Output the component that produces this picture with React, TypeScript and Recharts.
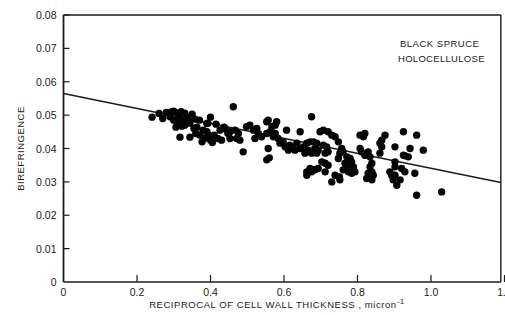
import React from 'react'
import { ScatterChart, Scatter, XAxis, YAxis, ReferenceLine } from 'recharts'

// tick values and labels
const X_TICKS = [0, 0.2, 0.4, 0.6, 0.8, 1.0, 1.2]
const X_TICK_LABELS = ['0', '0.2', '0.4', '0.6', '0.8', '1.0', '1.2']
const Y_TICKS = [0, 0.01, 0.02, 0.03, 0.04, 0.05, 0.06, 0.07, 0.08]
const Y_TICK_LABELS = ['0', '0.01', '0.02', '0.03', '0.04', '0.05', '0.06', '0.07', '0.08']

// frame edges (data units)
const X_MAX = 1.2
const X_FRAME = 1.19
const Y_MAX = 0.08

// fitted line, read at both ends
const FIT_START = [0, 0.0565]
const FIT_END = [1.19, 0.0298]

// measurements: [reciprocal wall thickness, birefringence]
const thinWalls = [
  [0.241, 0.0494], [0.26, 0.0505], [0.27, 0.049], [0.28, 0.0508], [0.29, 0.0495],
  [0.295, 0.051], [0.3, 0.0512], [0.3, 0.0485], [0.31, 0.0506], [0.31, 0.048],
  [0.315, 0.0495], [0.32, 0.051], [0.325, 0.0485], [0.306, 0.0464], [0.322, 0.0467],
  [0.33, 0.0506], [0.33, 0.047], [0.336, 0.0494], [0.34, 0.0485], [0.344, 0.0476],
  [0.35, 0.0503], [0.355, 0.046], [0.358, 0.0488], [0.363, 0.0464], [0.37, 0.0485],
  [0.317, 0.0434], [0.344, 0.0434], [0.36, 0.0445], [0.371, 0.044], [0.38, 0.0455],
  [0.385, 0.0431], [0.39, 0.0475], [0.395, 0.044], [0.4, 0.0494], [0.4, 0.0425],
  [0.41, 0.044], [0.415, 0.0473], [0.42, 0.043], [0.426, 0.0455], [0.43, 0.0425],
  [0.437, 0.0464], [0.439, 0.046], [0.447, 0.0446], [0.393, 0.0476], [0.39, 0.045],
  [0.377, 0.042], [0.405, 0.0418], [0.453, 0.043],
]

const midWalls = [
  [0.453, 0.045], [0.462, 0.0525], [0.467, 0.0455], [0.471, 0.043], [0.476, 0.0445],
  [0.48, 0.0425], [0.489, 0.039], [0.498, 0.0465], [0.507, 0.047], [0.517, 0.0455],
  [0.521, 0.043], [0.526, 0.046], [0.53, 0.0445], [0.539, 0.0435], [0.553, 0.048],
  [0.553, 0.0445], [0.553, 0.0366], [0.557, 0.0485], [0.557, 0.04], [0.562, 0.045],
  [0.567, 0.0465], [0.571, 0.0435], [0.576, 0.047], [0.576, 0.0445], [0.58, 0.048],
  [0.584, 0.043], [0.589, 0.0416], [0.598, 0.042], [0.56, 0.0372],
]

const thickerWalls = [
  [0.603, 0.0405], [0.607, 0.0455], [0.612, 0.0395], [0.616, 0.041], [0.621, 0.0405],
  [0.63, 0.0395], [0.635, 0.0416], [0.644, 0.045], [0.644, 0.04], [0.653, 0.0405],
  [0.657, 0.0386], [0.662, 0.0416], [0.666, 0.0395], [0.671, 0.042], [0.675, 0.0495],
  [0.662, 0.033], [0.662, 0.032], [0.671, 0.034], [0.68, 0.0336], [0.675, 0.033],
  [0.684, 0.0336], [0.693, 0.034], [0.68, 0.042], [0.689, 0.0416], [0.684, 0.04],
  [0.693, 0.0395], [0.675, 0.0386], [0.689, 0.0386], [0.698, 0.045], [0.707, 0.0455],
  [0.72, 0.045], [0.73, 0.044], [0.739, 0.0435], [0.707, 0.041], [0.716, 0.0405],
  [0.712, 0.0386], [0.72, 0.039], [0.703, 0.036], [0.712, 0.0356], [0.72, 0.035],
  [0.712, 0.033], [0.739, 0.032], [0.73, 0.03], [0.748, 0.042], [0.748, 0.037],
]

const thickWalls = [
  [0.752, 0.0386], [0.752, 0.0306], [0.757, 0.04], [0.761, 0.039], [0.761, 0.0336],
  [0.766, 0.0356], [0.771, 0.0375], [0.775, 0.035], [0.775, 0.033], [0.78, 0.037],
  [0.784, 0.036], [0.784, 0.0326], [0.789, 0.0345], [0.793, 0.033], [0.807, 0.044],
  [0.816, 0.0435], [0.82, 0.0445], [0.807, 0.04], [0.811, 0.039], [0.82, 0.038],
  [0.829, 0.039], [0.834, 0.0375], [0.839, 0.0356], [0.834, 0.0345], [0.839, 0.033],
  [0.829, 0.0326], [0.843, 0.032], [0.839, 0.0306], [0.825, 0.031], [0.861, 0.0416],
  [0.866, 0.0425], [0.875, 0.044], [0.866, 0.0405], [0.861, 0.0386], [0.888, 0.033],
  [0.893, 0.032], [0.897, 0.0306], [0.751, 0.0315],
]

const thickestWalls = [
  [0.902, 0.0345], [0.925, 0.045], [0.961, 0.044], [0.902, 0.0405], [0.943, 0.04],
  [0.979, 0.0395], [0.925, 0.038], [0.938, 0.0375], [0.902, 0.036], [0.92, 0.034],
  [0.929, 0.033], [0.956, 0.0326], [0.902, 0.032], [0.916, 0.0306], [0.907, 0.029],
  [0.961, 0.026], [1.029, 0.027], [0.93, 0.0378],
]

const FONT = '"Liberation Sans", Arial, sans-serif'
const INK = '#1c1c1c'

const points = [...thinWalls, ...midWalls, ...thickerWalls, ...thickWalls, ...thickestWalls]
  .map(([x, y]) => ({ x, y }))

const Dot = (props: any) => <circle cx={props.cx} cy={props.cy} r={3.7} fill="#050505" />

function XTick({ x, y, payload }: any) {
  const axisY = y - 10
  const label = X_TICK_LABELS[X_TICKS.indexOf(payload.value)]
  return (
    <g>
      {payload.value > 0 && <line x1={x} x2={x} y1={axisY} y2={axisY - 7} stroke={INK} strokeWidth={1.2} />}
      <text x={x} y={y + 4} textAnchor="middle" fontSize={10.5} fontFamily={FONT} fill={INK}>{label}</text>
    </g>
  )
}

function YTick({ x, y, payload }: any) {
  const axisX = x + 7
  const label = Y_TICK_LABELS[Y_TICKS.indexOf(payload.value)]
  return (
    <g>
      {payload.value > 0 && <line x1={axisX} x2={axisX + 6} y1={y} y2={y} stroke={INK} strokeWidth={1.2} />}
      <text x={x} y={y + 4} textAnchor="end" fontSize={10.5} fontFamily={FONT} fill={INK}>{label}</text>
    </g>
  )
}

const XTitle = () => (
  <text x={277} y={308} textAnchor="middle" fontSize={9.5}
    fontFamily={FONT} fill={INK} letterSpacing={0.55}>
    RECIPROCAL OF CELL WALL THICKNESS , micron
    <tspan dy={-4} fontSize={8}>-1</tspan>
  </text>
)

const YTitle = ({ viewBox }: any) => (
  <text x={21} y={viewBox.y + viewBox.height / 2} transform={`rotate(-90, 21, ${viewBox.y + viewBox.height / 2})`}
    textAnchor="middle" dominantBaseline="middle" fontSize={9.5} fontFamily={FONT} fill={INK} letterSpacing={0.5}>
    BIREFRINGENCE
  </text>
)

export default function App() {
  return (
    <div style={{ position: 'absolute', left: 0, top: 0, width: 505, height: 315, overflow: 'hidden', background: '#fff' }}>
      <style>{'body{margin:0;overflow:hidden}'}</style>
      <ScatterChart width={520} height={315} margin={{ top: 15, right: 15.5, bottom: 3, left: 0 }}>
        <XAxis type="number" dataKey="x" domain={[0, X_MAX]} ticks={X_TICKS} interval={0}
          axisLine={false} tickLine={false} tickSize={0} tickMargin={10} tick={<XTick />} height={30}
          label={<XTitle />} />
        <YAxis type="number" dataKey="y" domain={[0, Y_MAX]} ticks={Y_TICKS} interval={0}
          axisLine={false} tickLine={false} tickSize={0} tickMargin={7} tick={<YTick />} width={63.5}
          label={<YTitle />} />
        {/* frame */}
        <ReferenceLine segment={[{ x: 0, y: 0 }, { x: 0, y: Y_MAX }]} stroke={INK} strokeWidth={1.8} />
        <ReferenceLine segment={[{ x: 0, y: 0 }, { x: X_FRAME, y: 0 }]} stroke={INK} strokeWidth={1.6} />
        <ReferenceLine segment={[{ x: 0, y: Y_MAX }, { x: X_FRAME, y: Y_MAX }]} stroke={INK} strokeWidth={1.4} />
        <ReferenceLine segment={[{ x: X_FRAME, y: 0 }, { x: X_FRAME, y: Y_MAX }]} stroke={INK} strokeWidth={1.4} />
        <ReferenceLine segment={[{ x: FIT_START[0], y: FIT_START[1] }, { x: FIT_END[0], y: FIT_END[1] }]}
          stroke={INK} strokeWidth={1.5} />
        <Scatter data={points} shape={<Dot />} isAnimationActive={false} />
        <text x={400} y={47} fontSize={9.5} fontFamily={FONT} fill={INK} letterSpacing={0.5}>BLACK SPRUCE</text>
        <text x={398} y={62} fontSize={9.5} fontFamily={FONT} fill={INK} letterSpacing={0.3}>HOLOCELLULOSE</text>
      </ScatterChart>
    </div>
  )
}
